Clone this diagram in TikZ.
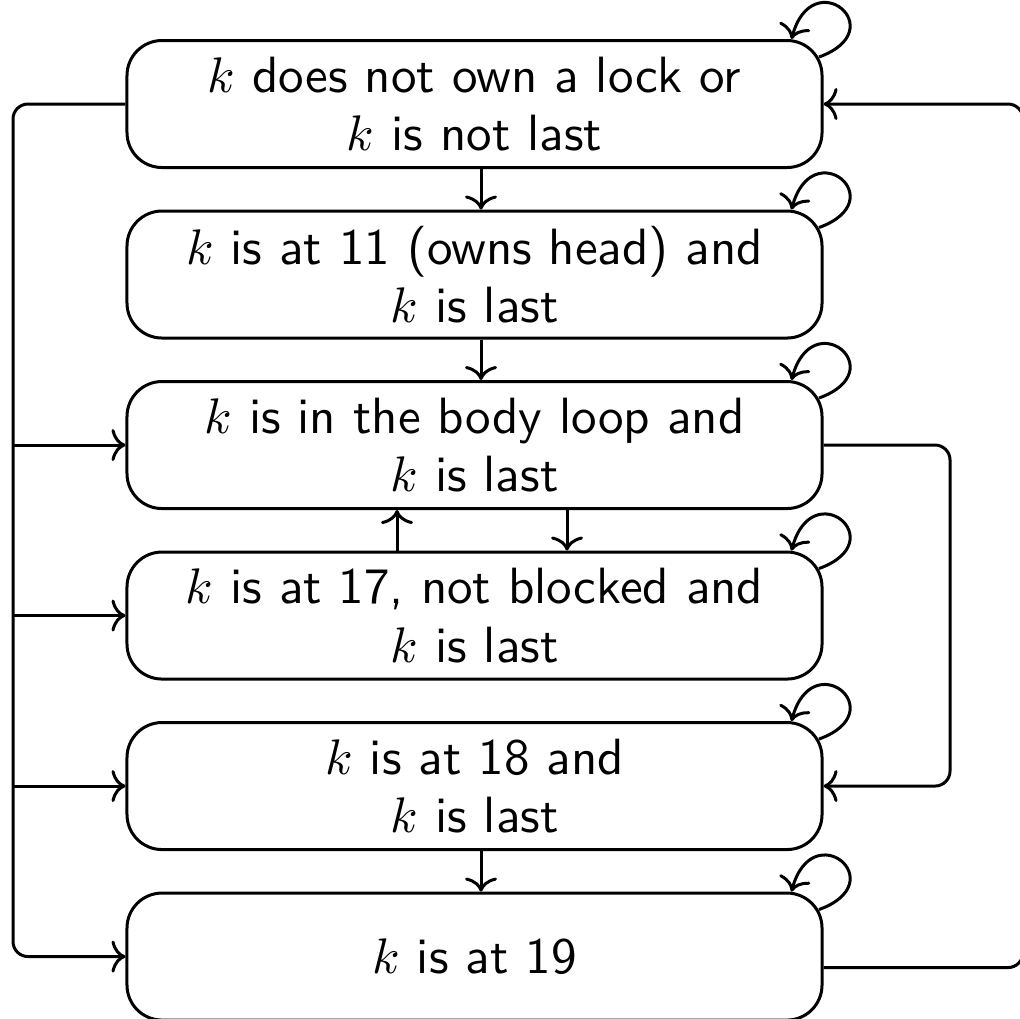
\documentclass[tikz,border=0pt]{standalone}
\usetikzlibrary{positioning,arrows.meta,calc}

\begin{document}
\begin{tikzpicture}[x=0.2pt,y=-0.2pt,
  state/.style={draw, line width=0.6pt, rounded corners=7pt, minimum width=139pt,
    minimum height=25.4pt, align=center, font=\sffamily\fontsize{10.2}{11.7}\selectfont, inner sep=0pt},
  link/.style={line width=0.6pt, -{To[length=2.8pt,width=6.4pt]}},
  node distance=8.1pt]
\clip (0,0) rectangle (1020,1018);

\node[state] (b1) at (474.5,104) {$k$ does not own a lock or\\ $k$ is not last};
\node[state, below=of b1] (b2) {$k$ is at 11 (owns head) and\\ $k$ is last};
\node[state, below=of b2] (b3) {$k$ is in the body loop and\\ $k$ is last};
\node[state, below=of b3] (b4) {$k$ is at 17, not blocked and\\ $k$ is last};
\node[state, below=of b4] (b5) {$k$ is at 18 and\\ $k$ is last};
\node[state, below=of b5] (b6) {$k$ is at 19};

% self loops on every state
\foreach \b in {b1,b2,b3,b4,b5,b6}
  \draw[link] ([xshift=-0.9pt,yshift=-3.6pt]\b.north east)
    .. controls +(20:16pt) and +(75:16pt) .. ([xshift=-6.4pt]\b.north east);

% straight steps
\draw[link] ([xshift=1.3pt]b1.south) -- ([xshift=1.3pt]b2.north);
\draw[link] ([xshift=1.3pt]b2.south) -- ([xshift=1.3pt]b3.north);
\draw[link] ([xshift=18.5pt]b3.south) -- ([xshift=18.5pt]b4.north);
\draw[link] ([xshift=-15.5pt]b4.north) -- ([xshift=-15.5pt]b3.south);
\draw[link] ([xshift=1.3pt]b5.south) -- ([xshift=1.3pt]b6.north);

% buses
\coordinate (lbus) at (13,0);
\coordinate (mbus) at (950,0);
\coordinate (rbus) at (1023,0);
\coordinate (b6out) at ([yshift=-2.2pt]b6.east);

\draw[link, rounded corners=3pt] (b1.west) -- (lbus |- b1.west) -- (lbus |- b6.west) -- (b6.west);
\foreach \b in {b3,b4,b5}
  \draw[link] (lbus |- \b.west) -- (\b.west);
\draw[link, rounded corners=3pt] (b3.east) -- (mbus |- b3.east) -- (mbus |- b5.east) -- (b5.east);
\draw[link, rounded corners=3pt] (b6out) -- (rbus |- b6out) -- (rbus |- b1.east) -- (b1.east);
\end{tikzpicture}
\end{document}
